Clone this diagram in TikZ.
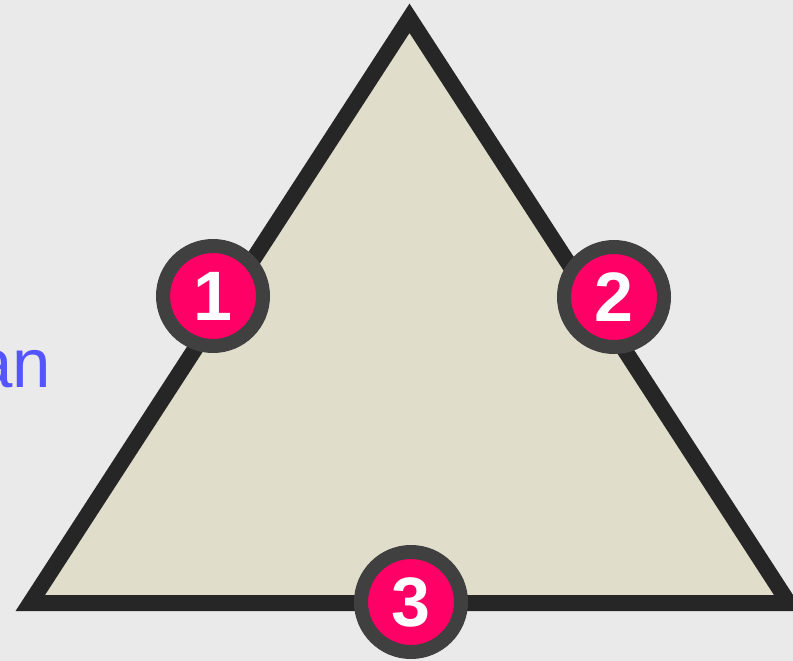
\documentclass[tikz,border=0pt]{standalone}
\usepackage{fontspec}
\setmainfont{Liberation Sans}
\usepackage{tikz}
\usetikzlibrary{positioning}
\definecolor{cbg}{HTML}{EAEAEA}
\definecolor{cfill}{HTML}{E0DDCA}
\definecolor{cedge}{HTML}{262626}
\definecolor{cring}{HTML}{404040}
\definecolor{cpink}{HTML}{FF0066}
\definecolor{cblue}{HTML}{5555FF}

\begin{document}
\begin{tikzpicture}[
    x=1pt, y=-1pt,
    marker/.style={circle, draw=cring, line width=14pt, fill=cpink,
        minimum size=100pt, inner sep=0pt, text=white,
        font=\fontsize{70}{70}\selectfont\bfseries},
]
    % Background
    \fill[cbg] (0,0) rectangle (793,661);
    \useasboundingbox (0,0) rectangle (793,661);

    % Clipped word on the left
    \node[text=cblue, font=\fontsize{69}{69}\selectfont, inner sep=0pt, anchor=base east] (word) at (51,387) {an};

    % Triangle
    \coordinate (apex) at (409.5,18.3);
    \coordinate (lcorner) at (30.3,603);
    \coordinate (rcorner) at (788.7,603);
    \draw[cedge, fill=cfill, line width=16pt, line join=miter] (apex) -- (lcorner) -- (rcorner) -- cycle;

    % Numbered markers
    \node[marker] (m1) at (213,296) {1};
    \node[marker] (m2) at (614,297) {2};
    \node[marker] (m3) at (411,602) {3};
\end{tikzpicture}
\end{document}
